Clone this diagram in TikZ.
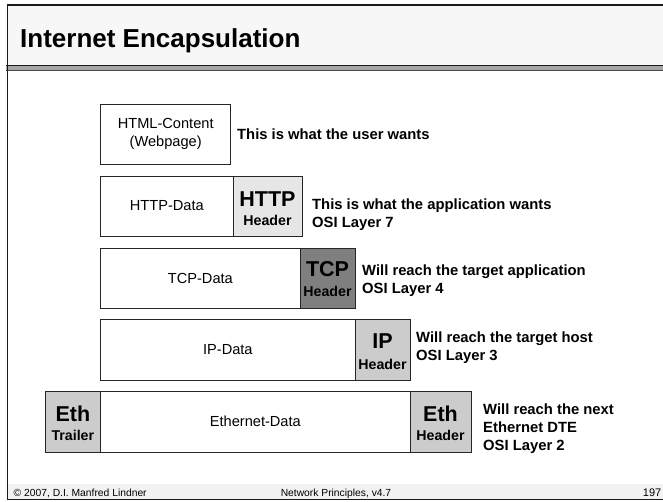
\documentclass[tikz,border=0pt]{standalone}
\usepackage{fontspec}
\setmainfont{Liberation Sans}
\definecolor{titlebg}{HTML}{F7F7F7}
\definecolor{footbg}{HTML}{F2F2F2}
\definecolor{sepgray}{HTML}{A6A6A6}
\definecolor{framedark}{HTML}{1A1A1A}
\definecolor{httpfill}{HTML}{E6E6E6}
\definecolor{tcpfill}{HTML}{7F7F7F}
\definecolor{ipfill}{HTML}{CCCCCC}
\definecolor{boxline}{HTML}{262626}
\begin{document}
\begin{tikzpicture}[x=1pt,y=-1pt,
  pbox/.style={draw=boxline, line width=0.9pt, inner sep=0pt, outer sep=0pt, fill=white,
    font=\fontsize{14.6}{18.5}\selectfont, align=center},
  hbox/.style={pbox, fill=#1},
  bigw/.style={font=\bfseries\fontsize{21.5}{22}\selectfont, anchor=base, inner sep=0pt},
  hdrw/.style={font=\bfseries\fontsize{14.2}{16}\selectfont, anchor=base, inner sep=0pt},
  desc/.style={font=\bfseries\fontsize{14.8}{18}\selectfont, anchor=base west, inner sep=0pt},
  foot/.style={font=\fontsize{10.3}{12}\selectfont, inner sep=0pt}
]
\useasboundingbox (0,0) rectangle (663,501);
% frame
\fill[titlebg] (7.3,5) rectangle (663,65);
\draw[line width=1.3pt, framedark] (7.3,5) -- (663,5);
\fill[sepgray] (5.7,65) rectangle (663,71);
\draw[line width=1.2pt, framedark] (5.7,65.3) -- (663,65.3);
\draw[line width=1.2pt, framedark!80] (5.7,70.6) -- (663,70.6);
\fill[footbg] (7.3,484) rectangle (663,499);
\draw[line width=1.2pt, framedark] (7.3,499.2) -- (663,499.2);
\draw[line width=1.3pt, framedark] (7.3,4.4) -- (7.3,499.8);
\node[font=\bfseries\fontsize{26}{28}\selectfont, anchor=base west, inner sep=0pt] (title) at (20,47) {Internet Encapsulation};
% footer
\node[foot, anchor=base west] (f1) at (13.5,496) {© 2007, D.I. Manfred Lindner};
\node[foot, anchor=base] (f2) at (336,496) {Network Principles, v4.7};
\node[foot, anchor=base east, font=\fontsize{11}{12}\selectfont] (f3) at (661.5,496) {197};
% HTML
\node[pbox, minimum width=130pt, minimum height=60pt] (html) at (165.7,134) {HTML-Content\\(Webpage)};
\node[desc] (d1) at (237,139.2) {This is what the user wants};
% HTTP
\node[pbox, minimum width=132.3pt, minimum height=60pt] (httpd) at (166.85,206) {HTTP-Data};
\node[hbox=httpfill, minimum width=69pt, minimum height=60pt] (httph) at (267.5,206) {};
\node[bigw] (httpb) at (httph.center) {HTTP};
\node[hdrw] (https) at ([yshift=-19pt]httph.center) {Header};
\node[desc] (d2a) at (312,209.9) {This is what the application wants};
\node[desc] (d2b) at (312,227.9) {OSI Layer 7};
% TCP
\node[pbox, minimum width=199.3pt, minimum height=60pt] (tcpd) at (200.35,278) {TCP-Data};
\node[hbox=tcpfill, minimum width=55pt, minimum height=60pt] (tcph) at (327.5,278) {};
\node[bigw] (tcpb) at ([yshift=1.5pt]tcph.center) {TCP};
\node[hdrw] (tcps) at ([yshift=-18.7pt]tcph.center) {Header};
\node[desc] (d3a) at (362,275.9) {Will reach the target application};
\node[desc] (d3b) at (362,293.9) {OSI Layer 4};
% IP
\node[pbox, minimum width=254.3pt, minimum height=61pt] (ipd) at (227.85,349.5) {IP-Data};
\node[hbox=ipfill, minimum width=55pt, minimum height=61pt] (iph) at (382.5,349.5) {};
\node[bigw] (ipb) at ([yshift=0.8pt]iph.center) {IP};
\node[hdrw] (ips) at ([yshift=-19.5pt]iph.center) {Header};
\node[desc] (d4a) at (416,342.9) {Will reach the target host};
\node[desc] (d4b) at (416,360.9) {OSI Layer 3};
% Ethernet
\node[hbox=ipfill, minimum width=55.7pt, minimum height=61pt] (etht) at (72.85,421.5) {};
\node[bigw] (ethtb) at (etht.center) {Eth};
\node[hdrw] (ethts) at ([yshift=-18.5pt]etht.center) {Trailer};
\node[pbox, minimum width=309.3pt, minimum height=61pt] (ethd) at (255.35,421.5) {Ethernet-Data};
\node[hbox=ipfill, minimum width=61pt, minimum height=61pt] (ethh) at (440.5,421.5) {};
\node[bigw] (ethhb) at (ethh.center) {Eth};
\node[hdrw] (ethhs) at ([yshift=-18.5pt]ethh.center) {Header};
\node[desc] (d5a) at (483,414.2) {Will reach the next};
\node[desc] (d5b) at (483,432.2) {Ethernet DTE};
\node[desc] (d5c) at (483,450.2) {OSI Layer 2};
\end{tikzpicture}
\end{document}
